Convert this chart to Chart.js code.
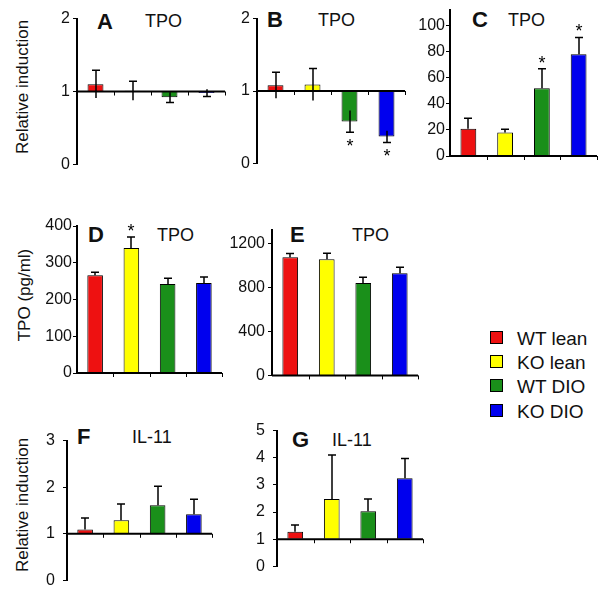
<!DOCTYPE html>
<html>
<head>
<meta charset="utf-8">
<script src="https://cdn.jsdelivr.net/npm/chart.js@4.4.1/dist/chart.umd.min.js"></script>
<style>
body { margin: 0; background: #fff; }
#fig { position: relative; width: 601px; height: 596px; overflow: hidden; font-family: "Liberation Sans", Arial, sans-serif; color: #111; }
#fig canvas { position: absolute; }
.t { position: absolute; white-space: nowrap; line-height: 1; font-size: 18px; }
.t.b { font-weight: bold; font-size: 22px; }
.v { position: absolute; white-space: nowrap; line-height: 1; font-size: 17px; transform: translate(-50%, -50%) rotate(-90deg); }
.leg { position: absolute; left: 490px; font-size: 19px; line-height: 1; white-space: nowrap; }
.leg i { display: inline-block; width: 11px; height: 11px; border: 1px solid #000; vertical-align: middle; margin-right: 14px; position: relative; top: -2px; }
</style>
</head>
<body>
<div id="fig">
  <div class="t b" style="left:97px;top:11px">A</div><div class="t" style="left:145px;top:12px">TPO</div>
  <div class="t b" style="left:267px;top:9px">B</div><div class="t" style="left:318px;top:11px">TPO</div>
  <div class="t b" style="left:472px;top:9px">C</div><div class="t" style="left:508px;top:11px">TPO</div>
  <div class="t b" style="left:88px;top:224px">D</div><div class="t" style="left:157px;top:226px">TPO</div>
  <div class="t b" style="left:290px;top:224px">E</div><div class="t" style="left:352px;top:226px">TPO</div>
  <div class="t b" style="left:77px;top:426px">F</div><div class="t" style="left:132px;top:428px">IL-11</div>
  <div class="t b" style="left:292px;top:429px">G</div><div class="t" style="left:332px;top:431px">IL-11</div>
  <div class="v" style="left:22px;top:87px">Relative induction</div>
  <div class="v" style="left:24px;top:295px">TPO (pg/ml)</div>
  <div class="v" style="left:22px;top:505px">Relative induction</div>
  <div id="legend"></div>
</div>
<script>
// groups and colours
const groups = ['WT lean', 'KO lean', 'WT DIO', 'KO DIO'];
const groupColors = ['#ee1111', '#ffff00', '#1a8f1a', '#0000ee'];

// A: TPO, relative induction
const tpoA = [1.10, 1.01, 0.92, 0.98];
const tpoAErr = [0.19, 0.13, 0.07, 0.05];
// B: TPO, relative induction
const tpoB = [1.08, 1.09, 0.58, 0.37];
const tpoBErr = [0.18, 0.22, 0.15, 0.08];
const tpoBSig = [false, false, true, true];
// C: TPO
const tpoC = [21, 18, 52, 78];
const tpoCErr = [8, 2.5, 15, 13];
const tpoCSig = [false, false, true, true];
// D: TPO (pg/ml)
const tpoD = [266, 340, 242, 245];
const tpoDErr = [8, 30, 16, 16];
const tpoDSig = [false, true, false, false];
// E: TPO
const tpoE = [1077, 1060, 842, 932];
const tpoEErr = [36, 54, 54, 55];
// F: IL-11
const il11F = [1.09, 1.29, 1.61, 1.42];
const il11FErr = [0.25, 0.35, 0.41, 0.32];
// G: IL-11
const il11G = [1.28, 2.48, 2.03, 3.25];
const il11GErr = [0.24, 1.62, 0.45, 0.72];

// tick labels
const ticksRel2 = [0, 1, 2];
const ticksC = [0, 20, 40, 60, 80, 100];
const ticksD = [0, 100, 200, 300, 400];
const ticksE = [0, 400, 800, 1200];
const ticksF = [0, 1, 2, 3];
const ticksG = [0, 1, 2, 3, 4, 5];

const FONT = '"Liberation Sans", Arial, sans-serif';

// baseline, error bars and asterisks
const errorBars = {
    id: 'errorBars',
    afterDatasetsDraw(chart, args, o) {
        const { ctx, chartArea: a, scales: { y } } = chart;
        const bars = chart.getDatasetMeta(0).data;
        const vals = chart.data.datasets[0].data;
        const yb = y.getPixelForValue(o.base);
        ctx.save();
        ctx.strokeStyle = '#000';
        ctx.fillStyle = '#000';
        ctx.lineWidth = 2;
        ctx.beginPath();
        ctx.moveTo(a.left, yb);
        ctx.lineTo(a.right, yb);
        ctx.stroke();

        // little marks between groups
        const step = bars[1].x - bars[0].x;
        ctx.lineWidth = 1;
        bars.forEach(b => {
            const xb = Math.round(b.x + step / 2) + 0.5;
            ctx.beginPath();
            ctx.moveTo(xb, yb);
            ctx.lineTo(xb, yb + 4);
            ctx.stroke();
        });

        ctx.lineWidth = 1.5;
        vals.forEach((v, i) => {
            const e = o.err[i];
            const dir = v >= o.base ? 1 : -1;
            const x = Math.round(bars[i].x);
            const yEnd = y.getPixelForValue(v + dir * e);
            const yStart = y.getPixelForValue(o.twoSided ? v - dir * e : v);
            ctx.beginPath();
            ctx.moveTo(x, yStart);
            ctx.lineTo(x, yEnd);
            ctx.moveTo(x - 4, yEnd);
            ctx.lineTo(x + 4, yEnd);
            ctx.stroke();
            if (o.sig && o.sig[i]) {
                ctx.font = '18px ' + FONT;
                ctx.textAlign = 'center';
                ctx.textBaseline = 'alphabetic';
                const cy = yEnd - dir * 10;
                ctx.fillText('*', x, cy + 10);
            }
        });
        ctx.restore();
    }
};

const fig = document.getElementById('fig');

function makePanel(p) {
    const AXW = 60, PAD = 12, PADR = 3;
    const cv = document.createElement('canvas');
    cv.width = AXW + (p.x1 - p.x0) + PADR;
    cv.height = (p.yBot - p.yTop) + 2 * PAD;
    cv.style.left = (p.x0 - AXW) + 'px';
    cv.style.top = (p.yTop - PAD) + 'px';
    fig.appendChild(cv);

    return new Chart(cv, {
        type: 'bar',
        data: {
            labels: groups,
            datasets: [{
                data: p.values,
                base: p.base,
                backgroundColor: groupColors,
                borderColor: '#000',
                borderWidth: 1,
                barPercentage: 0.43,
                categoryPercentage: 1
            }]
        },
        options: {
            responsive: false,
            animation: false,
            devicePixelRatio: 1,
            layout: { padding: { top: PAD, bottom: PAD, left: 0, right: PADR } },
            plugins: {
                legend: { display: false },
                tooltip: { enabled: false },
                errorBars: { base: p.base, err: p.err, sig: p.sig, twoSided: p.twoSided }
            },
            scales: {
                x: { display: false },
                y: {
                    min: p.min,
                    max: p.max,
                    afterBuildTicks: s => { s.ticks = p.ticks.map(v => ({ value: v })); },
                    afterFit: s => { s.width = AXW; },
                    grid: { drawOnChartArea: false, drawTicks: true, tickLength: 4, color: '#000', lineWidth: 1 },
                    border: { display: true, color: '#000', width: 2 },
                    ticks: { padding: p.tickPad, color: '#111', font: { family: FONT, size: 16 }, callback: v => String(v) }
                }
            }
        },
        plugins: [errorBars]
    });
}

makePanel({ x0: 77, x1: 225, yTop: 18, yBot: 165, min: 0, max: 2, base: 1, ticks: ticksRel2, tickPad: 3,
    values: tpoA, err: tpoAErr, twoSided: true });
makePanel({ x0: 257, x1: 405, yTop: 18, yBot: 164, min: 0, max: 2, base: 1, ticks: ticksRel2, tickPad: 3,
    values: tpoB, err: tpoBErr, sig: tpoBSig, twoSided: true });
makePanel({ x0: 450, x1: 597, yTop: 10, yBot: 156, min: 0, max: 112, base: 0, ticks: ticksC, tickPad: 1,
    values: tpoC, err: tpoCErr, sig: tpoCSig });
makePanel({ x0: 77, x1: 222, yTop: 226, yBot: 373, min: 0, max: 400, base: 0, ticks: ticksD, tickPad: 1,
    values: tpoD, err: tpoDErr, sig: tpoDSig });
makePanel({ x0: 272, x1: 418, yTop: 229, yBot: 376, min: 0, max: 1330, base: 0, ticks: ticksE, tickPad: 3,
    values: tpoE, err: tpoEErr });
makePanel({ x0: 67, x1: 212, yTop: 435, yBot: 586, min: 0, max: 3, base: 1, ticks: ticksF, tickPad: 8,
    values: il11F, err: il11FErr });
makePanel({ x0: 277, x1: 423, yTop: 425, yBot: 572, min: 0, max: 5, base: 1, ticks: ticksG, tickPad: 8,
    values: il11G, err: il11GErr });

// shared legend
const legendTops = [329, 353, 377, 402];
const legend = document.getElementById('legend');
groups.forEach((g, i) => {
    const row = document.createElement('div');
    row.className = 'leg';
    row.style.top = legendTops[i] + 'px';
    row.innerHTML = '<i style="background:' + groupColors[i] + '"></i>' + g;
    legend.appendChild(row);
});
</script>
</body>
</html>
